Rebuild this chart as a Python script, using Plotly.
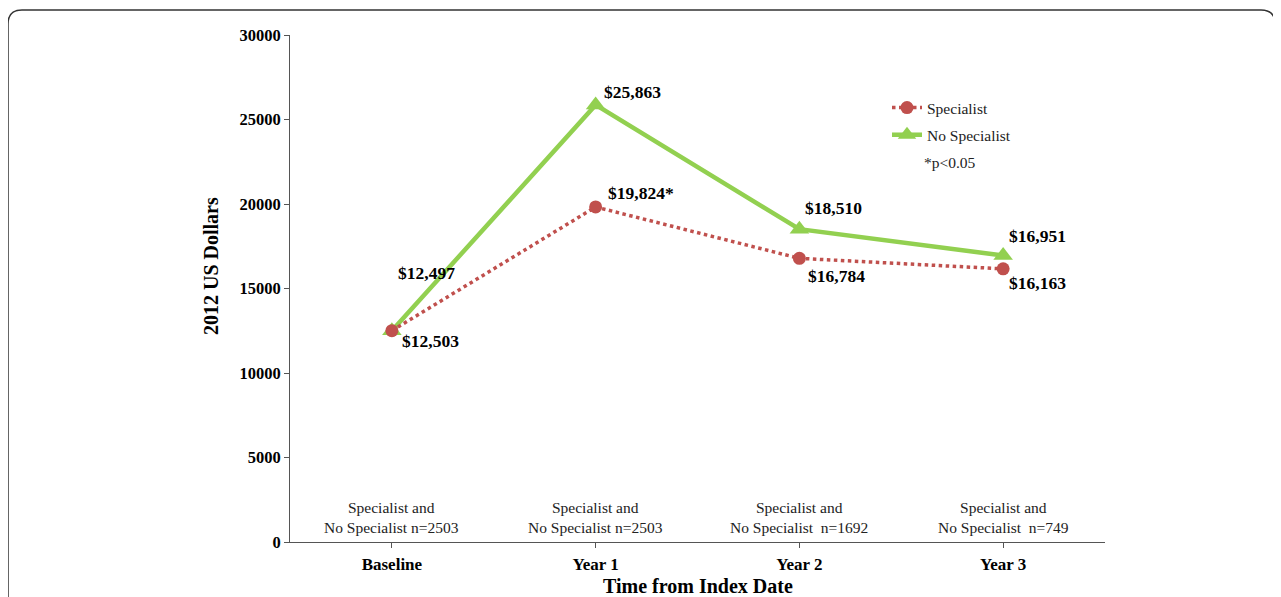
import plotly.graph_objects as go

categories = ["Baseline", "Year 1", "Year 2", "Year 3"]
specialist = [12503, 19824, 16784, 16163]
no_specialist = [12497, 25863, 18510, 16951]
spec_suffix = ["", "*", "", ""]
n_labels = ["Specialist and<br>No Specialist n=2503",
            "Specialist and<br>No Specialist n=2503",
            "Specialist and<br>No Specialist\u00a0 n=1692",
            "Specialist and<br>No Specialist\u00a0 n=749"]
y_ticks = [0, 5000, 10000, 15000, 20000, 25000, 30000]

FONT = "Liberation Serif, Times New Roman, serif"
RED = "#C0504D"
GREEN = "#92D050"

# page has an 8px body margin; work in reference pixel coords
W, H = 1273, 589
L, T = 282, 27
R = W - (1105 - 8)
B = H - (542 - 8)

def px(x):
    return (x - 290) / 815

def py(y):
    return (542 - y) / 507

fig = go.Figure()
fig.add_trace(go.Scatter(
    x=categories, y=no_specialist, name="No Specialist", mode="lines+markers",
    legendrank=2, legendgroup="nospec",
    line=dict(color=GREEN, width=4.5),
    marker=dict(symbol="triangle-up", size=17, color=GREEN),
))
fig.add_trace(go.Scatter(
    x=categories, y=specialist, name="Specialist", mode="lines+markers",
    legendrank=1, legendgroup="spec",
    line=dict(color=RED, width=3.5, dash="dot"),
    marker=dict(symbol="circle", size=13, color=RED),
))

LBL = dict(family=FONT, size=17.5, color="black", weight="bold")
ann = []
spec_pos = [(8, 2, "top"), (10, 2, "bottom"), (7, -6, "top"), (4, -2, "top")]
nos_pos = [(4, 46, "bottom"), (6, 1, "bottom"), (4, 9, "bottom"), (4, 8, "bottom")]
for i, c in enumerate(categories):
    xs, ys, ya = spec_pos[i]
    ann.append(dict(x=c, y=specialist[i], xref="x", yref="y",
                    text="${:,}".format(specialist[i]) + spec_suffix[i],
                    showarrow=False, xanchor="left", yanchor=ya,
                    xshift=xs, yshift=ys, font=LBL))
    xs, ys, ya = nos_pos[i]
    ann.append(dict(x=c, y=no_specialist[i], xref="x", yref="y",
                    text="${:,}".format(no_specialist[i]),
                    showarrow=False, xanchor="left", yanchor=ya,
                    xshift=xs, yshift=ys, font=LBL))
    ann.append(dict(x=c, y=0, xref="x", yref="y", text=n_labels[i],
                    showarrow=False, xanchor="center", yanchor="bottom",
                    yshift=4, align="center",
                    font=dict(family=FONT, size=15.5, color="#222")))

ann.append(dict(x=px(922), y=py(163), xref="paper", yref="paper",
                text="*p<0.05", showarrow=False, xanchor="left", yanchor="middle",
                font=dict(family=FONT, size=15.5, color="#222")))
# axis titles
ann.append(dict(x=px(211), y=py(266), xref="paper", yref="paper",
                text="2012 US Dollars", textangle=-90, showarrow=False,
                xanchor="center", yanchor="middle",
                font=dict(family=FONT, size=20, color="black", weight="bold")))
ann.append(dict(x=px(698), y=py(586), xref="paper", yref="paper",
                text="Time from Index Date", showarrow=False,
                xanchor="center", yanchor="middle",
                font=dict(family=FONT, size=20, color="black", weight="bold")))

# rounded frame
r = 14
x0, y0, x1, y1 = 8, 10, 1275, 640
def P(x, y):
    return f"{px(x)},{py(y)}"
path = (f"M {P(x0, y1)} L {P(x0, y0 + r)} Q {P(x0, y0)} {P(x0 + r, y0)} "
        f"L {P(x1 - r, y0)} Q {P(x1, y0)} {P(x1, y0 + r)} L {P(x1, y1)}")

fig.update_layout(
    width=W, height=H,
    margin=dict(l=L, r=R, t=T, b=B),
    paper_bgcolor="white", plot_bgcolor="white",
    font=dict(family=FONT, color="black"),
    annotations=ann,
    shapes=[dict(type="path", path=path, xref="paper", yref="paper",
                 line=dict(color="#333", width=1.5))],
    showlegend=True,
    legend=dict(x=px(887), y=py(91), xanchor="left", yanchor="top",
                traceorder="grouped", bgcolor="rgba(0,0,0,0)",
                font=dict(family=FONT, size=15.5, color="#222"),
                itemwidth=30, tracegroupgap=4),
    xaxis=dict(
        type="category", range=[-0.5, 3.5], showgrid=False,
        showline=True, linecolor="#555", linewidth=1,
        ticks="outside", ticklen=5, tickcolor="#555", ticklabelstandoff=2,
        tickfont=dict(family=FONT, size=17, color="black", weight="bold"),
    ),
    yaxis=dict(
        range=[0, 30000], tickvals=y_ticks, tickformat="d", showgrid=False,
        zeroline=False, showline=True, linecolor="#555", linewidth=1,
        ticks="outside", ticklen=5, tickcolor="#555",
        tickfont=dict(family=FONT, size=16.5, color="black", weight="bold"),
    ),
)

fig.write_html("out.html")
